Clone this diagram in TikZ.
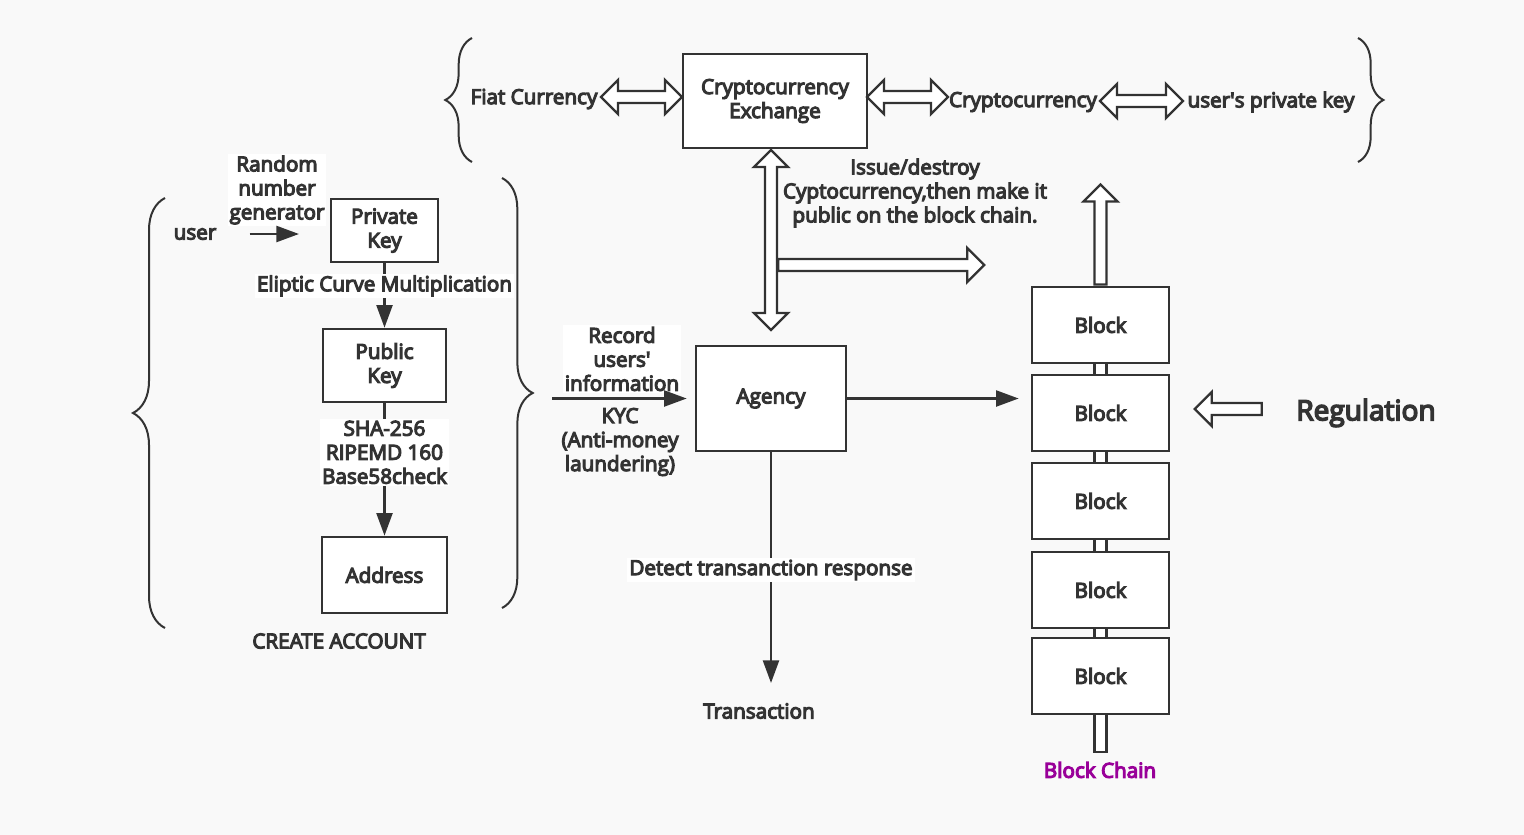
\documentclass[tikz,border=0pt]{standalone}
\usepackage{fontspec}
\setmainfont{Open Sans}[AutoFakeBold=5.5]
\usetikzlibrary{positioning}
\usetikzlibrary{arrows.meta}
\usetikzlibrary{shapes.arrows}
\usetikzlibrary{decorations.pathreplacing}
\definecolor{darkline}{HTML}{333333}
\definecolor{bgray}{HTML}{F9F9F9}
\definecolor{chainpurple}{HTML}{990099}
\newcommand{\diagfont}{\fontsize{15.5}{18}\selectfont\bfseries}

\begin{document}
\begin{tikzpicture}[x=0.75pt,y=0.75pt,yscale=-1,xscale=1,
  box/.style={draw=darkline, fill=white, line width=2pt, align=center, text=darkline, font=\diagfont, inner sep=0.75pt},
  lbl/.style={text=darkline, font=\diagfont, align=center, inner sep=0.75pt},
  whitelbl/.style={lbl, fill=white, inner sep=1.5pt},
  fatdouble/.style={double arrow, draw=darkline, fill=white, line width=1.8pt, inner xsep=0pt, inner ysep=3.6pt, double arrow head extend=8.25pt},
  fatsingle/.style={single arrow, draw=darkline, fill=white, line width=1.8pt, inner xsep=0pt, inner ysep=3.6pt, single arrow head extend=8.25pt},
  thinarrow/.style={draw=darkline, line width=1.8pt, -{Triangle[length=17pt,width=12pt]}},
  curly/.style={draw=darkline, line width=1.5pt, decorate, decoration={brace, amplitude=#1}}]
\useasboundingbox (0,0) rectangle (1524,835);
\fill[bgray] (0,0) rectangle (1524,835);

%Shape: Braces
\draw[curly=20pt] (472,162) -- (472,38);
\draw[curly=19pt] (1358,38) -- (1358,162);
\draw[curly=24pt] (165,628) -- (165,198);
\draw[curly=23pt] (502,178) -- (502,608);

% Top row
\node[lbl] (fiat) at (534,99) {Fiat Currency};
\node[box, minimum width=138pt, minimum height=70.5pt] (exch) at (775,101) {Cryptocurrency\\Exchange};
\node[lbl] (crypto) at (1023,102) {Cryptocurrency};
\node[lbl] (upk) at (1271,102) {user\textquotesingle s private key};
\node[fatdouble, minimum height=60.75pt] (fiatex) at (641.5,97) {};
\node[fatdouble, minimum height=60.75pt] (excrypto) at (907.5,97) {};
\node[fatdouble, minimum height=62.25pt] (cryptoupk) at (1141.5,101) {};

% Exchange down to agency
\node[fatdouble, rotate=90, minimum height=135pt] (exagency) at (771,240) {};
\node[fatsingle, anchor=tail, minimum height=154.5pt] (issue) at (777,265) {};
\node[lbl] (issuetext) at (915,193) {Issue/destroy\\Cyptocurrency,then make it\\public on the block chain.};

% Create account
\node[lbl] (user) at (195,234) {user};
\node[whitelbl] (rng) at (277,190) {Random\\number\\generator};
\node[box, minimum width=80.25pt, minimum height=47.25pt] (privk) at (384.5,230.5) {Private\\Key};
\node[box, minimum width=92.25pt, minimum height=54.75pt] (pubk) at (384.5,365.5) {Public\\Key};
\node[box, minimum width=93.75pt, minimum height=57pt] (addr) at (384.5,575) {Address};
\node[lbl] (create) at (339,641) {CREATE ACCOUNT};
\draw[thinarrow, shorten <=24pt, shorten >=23pt] (user.east) -- (user.east -| privk.west);
\draw[thinarrow] (privk) -- node[whitelbl, pos=0.35] (ecm) {Eliptic Curve Multiplication} (pubk);
\draw[thinarrow] (pubk) -- node[whitelbl, pos=0.37] (hash) {SHA-256\\RIPEMD 160\\Base58check} (addr);

% Agency
\coordinate (acc) at (552,398.5);
\coordinate (txend) at (771,683);
\node[box, minimum width=112.5pt, minimum height=78.75pt] (agency) at (771,398.5) {Agency};
\node[whitelbl] (record) at (622,359) {Record\\users\textquotesingle\\information};
\node[lbl] (kyc) at (620,442) {KYC\\(Anti-money\\laundering)};
\draw[thinarrow, shorten >=6pt] (acc) -- (agency);
\draw[thinarrow] (agency) -- node[whitelbl, pos=0.51] (detect) {Detect transanction response} (txend);
\node[lbl] (tx) at (759,711) {Transaction};

% Block chain
\draw[draw=darkline, fill=white, line width=1.6pt] (1094.5,300) rectangle (1106.5,752);
\foreach \i/\y in {1/325,2/413,3/501,4/590,5/676}
  \node[box, minimum width=102.75pt, minimum height=57pt] (b\i) at (1100.5,\y) {Block};
\node[fatsingle, rotate=90, anchor=tail, minimum height=75pt] (chainup) at (b1.north) {};
\draw[thinarrow, shorten >=9pt] (agency.east) -- (agency.east -| b2.west);
\node[lbl, text=chainpurple] (chain) at (1100,770) {Block Chain};

% Regulation
\node[fatsingle, rotate=180, anchor=tip, minimum height=50.25pt] (regarrow) at (1193,409) {};
\node[lbl, font=\fontsize{21}{25}\selectfont\bfseries] (reg) at (1366,413) {Regulation};

\end{tikzpicture}
\end{document}
